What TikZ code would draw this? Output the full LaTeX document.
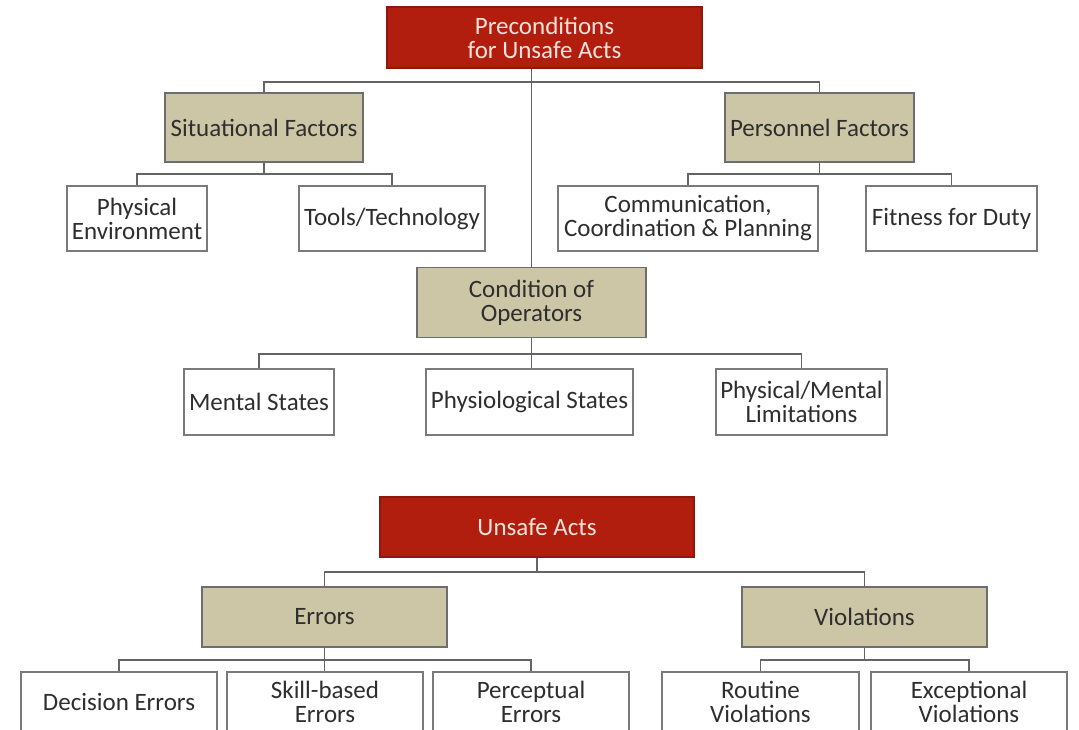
\documentclass[tikz,border=0pt]{standalone}
\usepackage{fontspec}
\setmainfont{Carlito}
\definecolor{redbox}{HTML}{B11E0E}
\definecolor{tanbox}{HTML}{CDC6A6}
\definecolor{boxline}{HTML}{7A7A7A}
\definecolor{conline}{HTML}{646464}
\definecolor{txt}{HTML}{2E2E2E}
\definecolor{redtxt}{HTML}{FBE3DC}
\tikzset{
  base/.style={inner sep=0pt, align=center, font=\fontsize{25}{24}\selectfont, line width=1.2pt},
  rednode/.style={base, fill=redbox, draw=redbox!80!black, text=redtxt},
  tannode/.style={base, fill=tanbox, draw=boxline!90!black, text=txt},
  whitenode/.style={base, fill=white, draw=boxline, text=txt},
  conn/.style={draw=conline, line width=1.5pt},
}
\begin{document}
\begin{tikzpicture}[x=1pt,y=-1pt]
\path[use as bounding box] (0,0) rectangle (1079,730);
\clip (0,0) rectangle (1079,730);
\fill[white] (0,0) rectangle (1079,730);

% upper tree
\node[rednode, minimum width=315pt, minimum height=61pt] (pre) at (544.5,37.5) {Preconditions\\for Unsafe Acts};
\node[tannode, minimum width=198pt, minimum height=69pt] (sf) at (264,127.5) {Situational Factors};
\node[tannode, minimum width=189pt, minimum height=69pt] (pf) at (819.5,127.5) {Personnel Factors};
\node[whitenode, minimum width=140pt, minimum height=65pt] (pe) at (137,218.5) {Physical\\Environment};
\node[whitenode, minimum width=186pt, minimum height=65pt] (tt) at (392,218.5) {Tools/Technology};
\node[whitenode, minimum width=260pt, minimum height=65pt] (ccp) at (688,218.5) {Communication,\\Coordination \& Planning};
\node[whitenode, minimum width=171pt, minimum height=65pt] (fd) at (951.5,218.5) {Fitness for Duty};
\node[tannode, minimum width=229pt, minimum height=70pt] (coo) at (531.5,302.5) {Condition of\\Operators};
\node[whitenode, minimum width=150pt, minimum height=66pt] (ms) at (259,402) {Mental States};
\node[whitenode, minimum width=207pt, minimum height=66pt] (ps) at (529.5,402) {Physiological States};
\node[whitenode, minimum width=171pt, minimum height=66pt] (pml) at (801.5,402) {Physical/Mental\\Limitations};

% lower tree
\node[rednode, minimum width=314pt, minimum height=60pt] (ua) at (537,527) {Unsafe Acts};
\node[tannode, minimum width=245pt, minimum height=60pt] (err) at (324.5,617) {Errors};
\node[tannode, minimum width=245pt, minimum height=60pt] (vio) at (864.5,617) {Violations};
\node[whitenode, minimum width=196pt, minimum height=60pt] (de) at (119,702) {Decision Errors};
\node[whitenode, minimum width=196pt, minimum height=60pt] (se) at (325,702) {Skill-based\\Errors};
\node[whitenode, minimum width=196pt, minimum height=60pt] (pce) at (531,702) {Perceptual\\Errors};
\node[whitenode, minimum width=197pt, minimum height=60pt] (rv) at (760.5,702) {Routine\\Violations};
\node[whitenode, minimum width=196pt, minimum height=60pt] (ev) at (969,702) {Exceptional\\Violations};

% connectors upper
\draw[conn] (coo.north) -- (coo.north |- pre.south);
\draw[conn] (sf.north) -- (sf.north |- 0,82) -- (pf.north |- 0,82) -- (pf.north);
\draw[conn] (sf.south) -- (sf.south |- 0,174);
\draw[conn] (pe.north) -- (pe.north |- 0,174) -- (tt.north |- 0,174) -- (tt.north);
\draw[conn] (pf.south) -- (pf.south |- 0,174);
\draw[conn] (ccp.north) -- (ccp.north |- 0,174) -- (fd.north |- 0,174) -- (fd.north);
\draw[conn] (coo.south) -- (coo.south |- ps.north);
\draw[conn] (ms.north) -- (ms.north |- 0,354) -- (pml.north |- 0,354) -- (pml.north);

% connectors lower
\draw[conn] (ua.south) -- (ua.south |- 0,572);
\draw[conn] (err.north) -- (err.north |- 0,572) -- (vio.north |- 0,572) -- (vio.north);
\draw[conn] (err.south) -- (err.south |- se.north);
\draw[conn] (de.north) -- (de.north |- 0,660) -- (pce.north |- 0,660) -- (pce.north);
\draw[conn] (vio.south) -- (vio.south |- 0,660);
\draw[conn] (rv.north) -- (rv.north |- 0,660) -- (ev.north |- 0,660) -- (ev.north);
\end{tikzpicture}
\end{document}
